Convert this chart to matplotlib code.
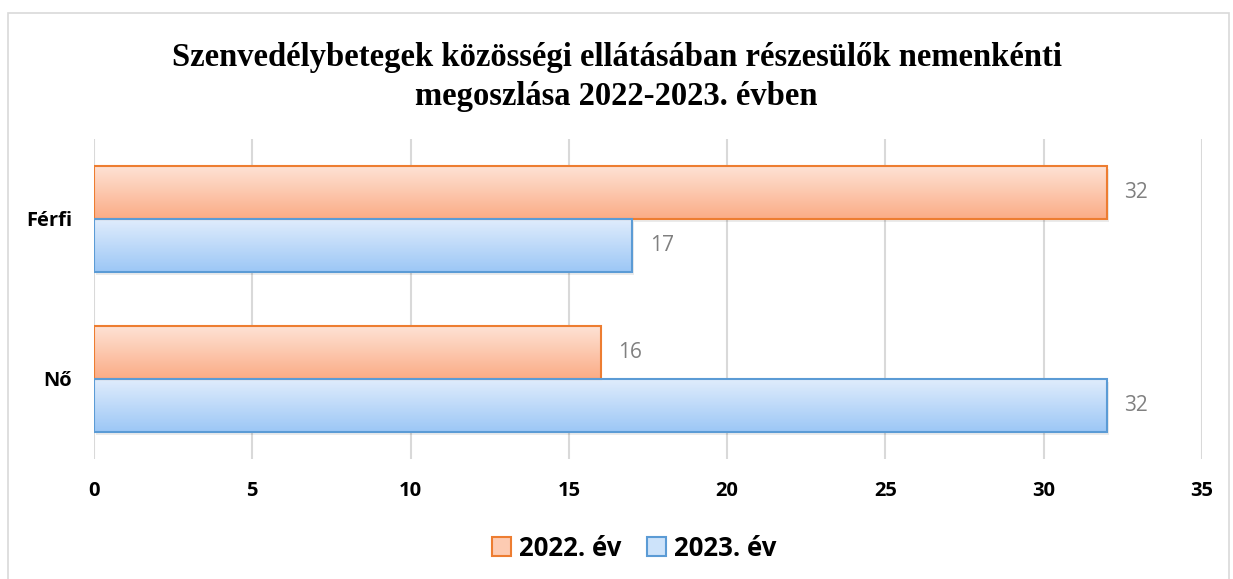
import matplotlib
matplotlib.use("Agg")
import matplotlib.pyplot as plt
import numpy as np
from matplotlib.patches import Rectangle
from matplotlib.colors import LinearSegmentedColormap

categories = ["Nő", "Férfi"]
series_names = ["2022. év", "2023. év"]
values_2022 = [16, 32]
values_2023 = [32, 17]
xticks = [0, 5, 10, 15, 20, 25, 30, 35]
title = "Szenvedélybetegek közösségi ellátásában részesülők nemenkénti\nmegoszlása 2022-2023. évben"

W, H = 1233, 579
fig = plt.figure(figsize=(W / 100, H / 100), dpi=100)
fig.patch.set_facecolor("white")

# outer border
fig.add_artist(Rectangle((8 / W, -0.01), (1229 - 8) / W, 1 - 13 / H + 0.01,
                         transform=fig.transFigure, fill=False,
                         edgecolor="#D9D9D9", linewidth=1.2))

ax = fig.add_axes([94 / W, 1 - 459 / H, (1202 - 94) / W, (459 - 139) / H])

styles = [
    dict(top="#FEE3D6", bottom="#FBAC86", edge="#ED7D31"),
    dict(top="#E1EDFC", bottom="#9CC7F6", edge="#5B9BD5"),
]
h = 0.333
y = np.arange(len(categories))
offsets = [h / 2, -h / 2]
for vals, off, st, name in zip([values_2022, values_2023], offsets, styles, series_names):
    bars = ax.barh(y + off, vals, height=h, color="none", edgecolor=st["edge"],
                   linewidth=1.5, label=name, zorder=4)
    cmap = LinearSegmentedColormap.from_list("g", [st["bottom"], st["top"]])
    for b, v in zip(bars, vals):
        x0, y0, bw, bh = b.get_x(), b.get_y(), b.get_width(), b.get_height()
        # shadow
        ax.add_patch(Rectangle((x0 + 0.05, y0 - 0.02), bw, bh, facecolor="#000000",
                               alpha=0.08, edgecolor="none", zorder=2))
        grad = np.linspace(0, 1, 100).reshape(-1, 1)
        ax.imshow(grad, cmap=cmap, aspect="auto", origin="lower",
                  extent=[x0, x0 + bw, y0, y0 + bh], zorder=3)
        ax.text(v + 0.55, b.get_y() + bh / 2, f"{v}", va="center", ha="left",
                fontsize=15, color="#808080", family="Open Sans")

ax.set_xlim(0, 35)
ax.set_ylim(-0.5, 1.5)
ax.set_xticks(xticks)
ax.set_xticklabels([str(t) for t in xticks], fontsize=14.5, fontweight="bold", family="Open Sans")
ax.set_yticks(y)
ax.set_yticklabels(categories, fontsize=14.5, fontweight="bold", family="Open Sans")
ax.tick_params(length=0)
ax.tick_params(axis="x", pad=16)
ax.tick_params(axis="y", pad=16)
for s in ax.spines.values():
    s.set_visible(False)
ax.grid(axis="x", color="#D9D9D9", linewidth=1.5, zorder=0)
ax.set_axisbelow(True)

fig.text(0.5, 1 - 77 / H, title, ha="center", va="center", fontsize=23.5,
         fontweight="bold", family="Liberation Serif", linespacing=1.3)

handles = [Rectangle((0, 0), 1, 1, facecolor="#FDCBB2", edgecolor=styles[0]["edge"], linewidth=1.5),
           Rectangle((0, 0), 1, 1, facecolor="#CDE3FA", edgecolor=styles[1]["edge"], linewidth=1.5)]
fig.legend(handles, series_names, loc="center", bbox_to_anchor=(634 / W, 1 - 548 / H), ncol=2,
           frameon=False, prop=dict(family="Open Sans", weight="bold", size=18.5),
           handlelength=0.75, handleheight=0.75, handletextpad=0.3, columnspacing=1.0)

fig.savefig("out.png", dpi=100)
